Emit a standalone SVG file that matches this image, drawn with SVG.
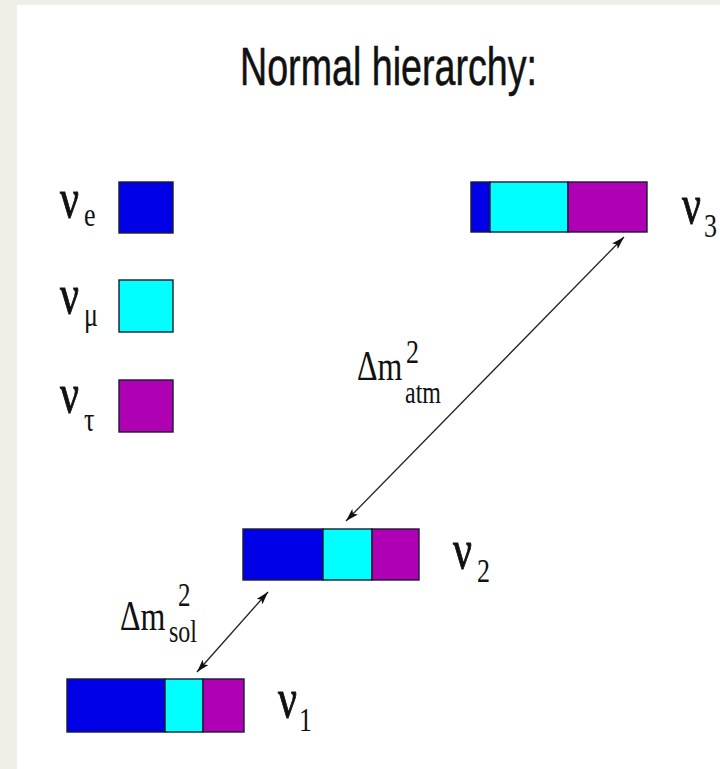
<svg xmlns="http://www.w3.org/2000/svg" width="720" height="769" viewBox="0 0 720 769">
<style>
.seg{stroke:#1a1a33;stroke-width:1.4}
.b{fill:#0000e6}
.c{fill:#00ffff}
.m{fill:#b000b4}
.serif{font-family:"Liberation Serif","Times New Roman",serif;fill:#111}
.nu{font-size:42px;stroke:#111;stroke-width:0.7}
.sub{font-size:26px}
.title{font-family:"Liberation Sans",Arial,sans-serif;font-size:40px;fill:#111;stroke:#111;stroke-width:0.4}
.conn{stroke:#222;stroke-width:1.3;fill:none}
</style>
<defs>
<marker id="ah" viewBox="0 0 13 8" refX="13" refY="4" markerWidth="13" markerHeight="8" markerUnits="userSpaceOnUse" orient="auto-start-reverse">
<path d="M0,0 L13,4 L0,8 L3,4 z" fill="#111"/>
</marker>
</defs>
<rect x="0" y="0" width="720" height="769" fill="#efefe7"/>
<rect x="17" y="5" width="703" height="764" fill="#ffffff"/>

<g id="title">
<text class="title" transform="translate(240,85) scale(1,1.32)" x="0" y="0" textLength="297" lengthAdjust="spacingAndGlyphs">Normal hierarchy:</text>
</g>

<g id="legend-e">
<rect class="seg b" x="119" y="182" width="54" height="51"/>
<text class="serif nu" transform="translate(60,217) scale(1,1.32)">ν</text>
<text class="serif sub" transform="translate(84,226) scale(1,1.32)">e</text>
</g>
<g id="legend-mu">
<rect class="seg c" x="119" y="280" width="54" height="52"/>
<text class="serif nu" transform="translate(60,313) scale(1,1.32)">ν</text>
<text class="serif sub" transform="translate(84,326) scale(1,1.32)">μ</text>
</g>
<g id="legend-tau">
<rect class="seg m" x="119" y="380" width="54" height="52"/>
<text class="serif nu" transform="translate(60,412) scale(1,1.32)">ν</text>
<text class="serif sub" transform="translate(84,431) scale(1,1.32)">τ</text>
</g>

<g id="nu3">
<rect class="seg b" x="471" y="182" width="19" height="50"/>
<rect class="seg c" x="490" y="182" width="78" height="50"/>
<rect class="seg m" x="568" y="182" width="79" height="50"/>
<text class="serif nu" transform="translate(682,223) scale(1,1.32)">ν</text>
<text class="serif sub" transform="translate(704,237) scale(1,1.32)">3</text>
</g>

<g id="nu2">
<rect class="seg b" x="243" y="529" width="80" height="51"/>
<rect class="seg c" x="323" y="529" width="49" height="51"/>
<rect class="seg m" x="372" y="529" width="47" height="51"/>
<text class="serif nu" transform="translate(453,568) scale(1,1.32)">ν</text>
<text class="serif sub" transform="translate(477,582) scale(1,1.32)">2</text>
</g>

<g id="nu1">
<rect class="seg b" x="67" y="679" width="98" height="53"/>
<rect class="seg c" x="165" y="679" width="38" height="53"/>
<rect class="seg m" x="203" y="679" width="41" height="53"/>
<text class="serif nu" transform="translate(278,717) scale(1,1.32)">ν</text>
<text class="serif sub" transform="translate(299,731) scale(1,1.32)">1</text>
</g>

<g id="connectors">
<line class="conn" x1="346" y1="521" x2="624" y2="237" marker-start="url(#ah)" marker-end="url(#ah)"/>
<line class="conn" x1="197" y1="672" x2="268" y2="592" marker-start="url(#ah)" marker-end="url(#ah)"/>
</g>

<g id="label-atm">
<text class="serif" font-size="32" transform="translate(357,380) scale(1,1.32)">Δm</text>
<text class="serif" font-size="26" transform="translate(406,363) scale(1,1.32)">2</text>
<text class="serif" font-size="24" transform="translate(405,403) scale(1,1.32)">atm</text>
</g>
<g id="label-sol">
<text class="serif" font-size="32" transform="translate(120,630) scale(1,1.32)">Δm</text>
<text class="serif" font-size="25" transform="translate(178,606) scale(1,1.32)">2</text>
<text class="serif" font-size="24" transform="translate(169,642) scale(1,1.32)">sol</text>
</g>
</svg>
